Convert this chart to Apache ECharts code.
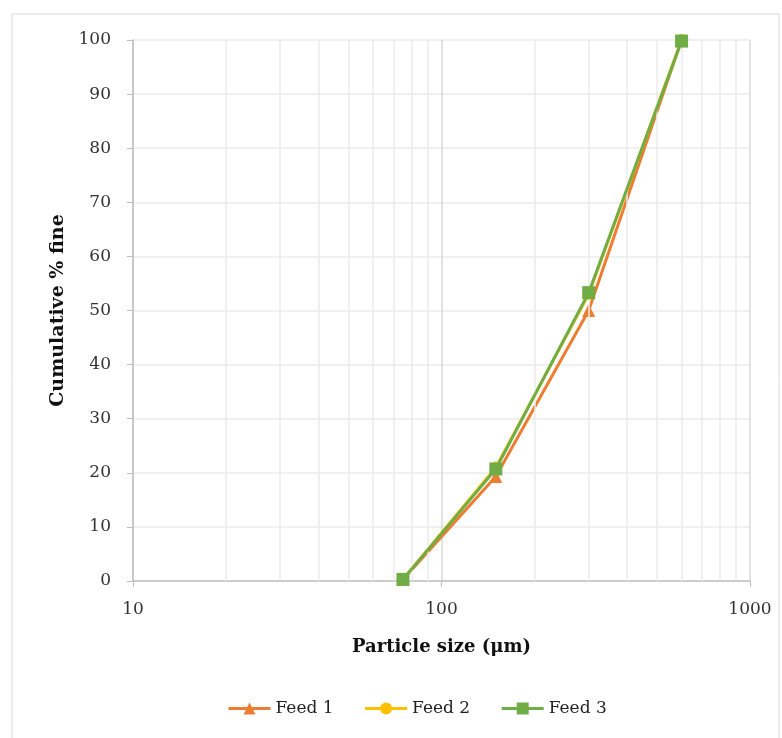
<!DOCTYPE html>
<html>
<head>
<meta charset="utf-8">
<script src="https://cdn.jsdelivr.net/npm/echarts@6/dist/echarts.min.js"></script>
<style>
html, body { margin: 0; padding: 0; background: #fff; }
#chart { width: 782px; height: 738px; }
</style>
</head>
<body>
<div id="chart"></div>
<script>
// particle sizes (um)
var sizes = [75, 150, 300, 600];
var feed1 = [0.3, 19.3, 50.0, 100];
var feed2 = [0.3, 21.0, 53.0, 100];
var feed3 = [0.3, 20.7, 53.3, 99.8];
// minor log gridlines
var minorX = [20, 30, 40, 50, 60, 70, 80, 90, 200, 300, 400, 500, 600, 700, 800, 900];

function pairs(xs, ys) {
	var out = [];
	for (var i = 0; i < xs.length; i++) {
		out.push([xs[i], ys[i]]);
	}
	return out;
}

var font = '"DejaVu Serif", serif';
var myChart = echarts.init(document.getElementById('chart'));

var option = {
	backgroundColor: '#fff',
	animation: false,
	graphic: [{
		type: 'rect',
		shape: { x: 12, y: 14, width: 767, height: 740 },
		style: { fill: 'none', stroke: '#d9d9d9', lineWidth: 1 },
		silent: true
	}],
	grid: { left: 133, right: 32, top: 40, bottom: 157 },
	legend: {
		data: ['Feed 1', 'Feed 2', 'Feed 3'],
		bottom: 16,
		left: 222,
		itemWidth: 42,
		itemHeight: 15,
		itemGap: 30,
		lineStyle: { width: 3 },
		textStyle: { fontFamily: font, fontSize: 17, color: '#222' }
	},
	xAxis: {
		type: 'log',
		logBase: 10,
		min: 10,
		max: 1000,
		name: 'Particle size (μm)',
		nameLocation: 'middle',
		nameGap: 57,
		nameTextStyle: { fontFamily: font, fontSize: 18, fontWeight: 'bold', color: '#111' },
		axisLine: { lineStyle: { color: '#bfbfbf', width: 1.5 } },
		axisTick: { show: true, length: 6, lineStyle: { color: '#bfbfbf' } },
		axisLabel: {
			fontFamily: font, fontSize: 17, color: '#333', margin: 20,
			formatter: function (v) { return String(v); }
		},
		splitLine: { show: true, lineStyle: { color: '#d9d9d9', width: 1.5 } }
	},
	yAxis: {
		type: 'value',
		min: 0,
		max: 100,
		interval: 10,
		name: 'Cumulative % fine',
		nameLocation: 'middle',
		nameGap: 64,
		nameTextStyle: { fontFamily: font, fontSize: 19, fontWeight: 'bold', color: '#111' },
		axisLine: { show: true, lineStyle: { color: '#bfbfbf', width: 1.5 } },
		axisTick: { show: true, length: 6, lineStyle: { color: '#bfbfbf' } },
		axisLabel: { fontFamily: font, fontSize: 17, color: '#333', margin: 22 },
		splitLine: { show: true, lineStyle: { color: '#ebebeb', width: 1.5 } }
	},
	series: [{
		name: 'grid',
		type: 'line',
		data: [],
		z: 1,
		silent: true,
		markLine: {
			silent: true,
			symbol: 'none',
			label: { show: false },
			lineStyle: { color: '#ebebeb', width: 1.5, type: 'solid' },
			data: minorX.map(function (v) { return { xAxis: v }; })
		}
	}, {
		name: 'Feed 1',
		type: 'line',
		data: pairs(sizes, feed1),
		symbol: 'triangle',
		symbolSize: 13,
		itemStyle: { color: '#ED7D31' },
		lineStyle: { width: 3, color: '#ED7D31' },
		z: 3
	}, {
		name: 'Feed 2',
		type: 'line',
		data: pairs(sizes, feed2),
		symbol: 'circle',
		symbolSize: 12,
		itemStyle: { color: '#FFC000' },
		lineStyle: { width: 3, color: '#FFC000' },
		z: 4
	}, {
		name: 'Feed 3',
		type: 'line',
		data: pairs(sizes, feed3),
		symbol: 'rect',
		symbolSize: 13,
		itemStyle: { color: '#70AD47' },
		lineStyle: { width: 3, color: '#70AD47' },
		z: 5
	}]
};
myChart.setOption(option);
</script>
</body>
</html>
